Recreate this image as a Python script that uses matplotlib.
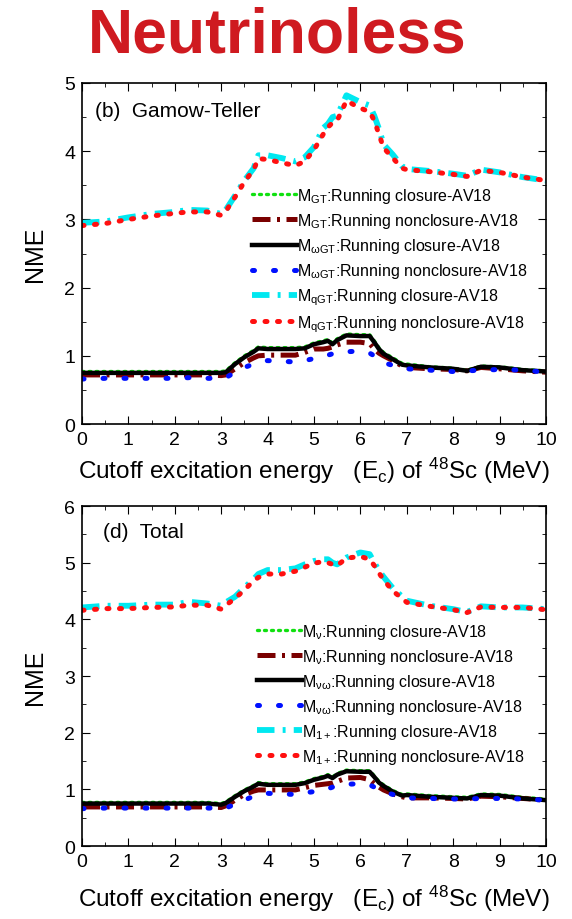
import matplotlib
matplotlib.use("Agg")
import matplotlib.pyplot as plt
from matplotlib.ticker import MultipleLocator

plt.rcParams['font.family'] = ['Liberation Sans', 'DejaVu Sans']
plt.rcParams['mathtext.fontset'] = 'custom'
plt.rcParams['mathtext.rm'] = 'Liberation Sans'
plt.rcParams['mathtext.it'] = 'Liberation Sans:italic'
plt.rcParams['mathtext.bf'] = 'Liberation Sans:bold'

# cutoff energies (MeV) shared by every curve
ec = [0, 0.5, 1.0, 1.5, 2.0, 2.3, 2.7, 3.0, 3.1, 3.3, 3.5, 3.7, 3.8, 4.0, 4.3, 4.6, 4.8,
      5.0, 5.2, 5.3, 5.4, 5.5, 5.7, 6.0, 6.2, 6.3, 6.4, 6.5, 6.7, 6.9, 7.0, 7.5, 8.0,
      8.3, 8.6, 9.0, 9.5, 10.0]

# (b) Gamow-Teller
gt_closure = [0.77, 0.77, 0.77, 0.77, 0.77, 0.77, 0.77, 0.77, 0.78, 0.90, 1.00, 1.08, 1.13,
              1.12, 1.12, 1.12, 1.13, 1.19, 1.22, 1.24, 1.19, 1.25, 1.32, 1.31, 1.31, 1.22,
              1.12, 1.05, 0.97, 0.89, 0.88, 0.84, 0.82, 0.79, 0.85, 0.84, 0.80, 0.78]
gt_nonclosure = [0.72, 0.72, 0.72, 0.72, 0.72, 0.72, 0.72, 0.71, 0.72, 0.81, 0.90, 0.97, 1.00,
                 1.01, 1.01, 1.01, 1.05, 1.10, 1.10, 1.11, 1.13, 1.16, 1.20, 1.20, 1.18, 1.10,
                 1.04, 1.00, 0.93, 0.85, 0.83, 0.81, 0.80, 0.78, 0.83, 0.81, 0.78, 0.76]
wgt_closure = [0.75, 0.75, 0.75, 0.75, 0.75, 0.75, 0.75, 0.75, 0.76, 0.88, 0.98, 1.06, 1.11,
               1.10, 1.10, 1.10, 1.11, 1.17, 1.20, 1.22, 1.17, 1.23, 1.30, 1.29, 1.29, 1.20,
               1.10, 1.03, 0.95, 0.87, 0.86, 0.83, 0.81, 0.78, 0.84, 0.83, 0.79, 0.77]
wgt_nonclosure = [0.66, 0.67, 0.67, 0.67, 0.67, 0.68, 0.67, 0.67, 0.68, 0.76, 0.83, 0.88, 0.90,
                  0.93, 0.92, 0.91, 0.93, 0.96, 1.00, 1.01, 1.03, 1.05, 1.06, 1.07, 1.04, 1.00,
                  0.95, 0.90, 0.86, 0.82, 0.81, 0.79, 0.77, 0.78, 0.79, 0.80, 0.79, 0.76]
qgt_closure = [2.95, 2.97, 3.03, 3.08, 3.11, 3.14, 3.13, 3.08, 3.14, 3.35, 3.57, 3.75, 3.94,
               3.94, 3.90, 3.85, 3.91, 4.06, 4.34, 4.40, 4.50, 4.52, 4.82, 4.72, 4.67, 4.52,
               4.33, 4.10, 3.95, 3.78, 3.74, 3.71, 3.67, 3.64, 3.73, 3.69, 3.62, 3.57]
qgt_nonclosure = [2.91, 2.94, 3.00, 3.05, 3.09, 3.11, 3.11, 3.06, 3.12, 3.33, 3.55, 3.73, 3.89,
                  3.88, 3.83, 3.79, 3.85, 4.02, 4.25, 4.35, 4.42, 4.45, 4.74, 4.63, 4.58, 4.45,
                  4.25, 4.05, 3.90, 3.75, 3.73, 3.70, 3.66, 3.63, 3.72, 3.69, 3.62, 3.57]

# (d) Total
v_closure = [0.77, 0.77, 0.77, 0.77, 0.77, 0.77, 0.77, 0.75, 0.78, 0.89, 0.99, 1.07, 1.12,
             1.10, 1.10, 1.10, 1.13, 1.19, 1.23, 1.26, 1.22, 1.28, 1.34, 1.33, 1.33, 1.24,
             1.14, 1.08, 0.98, 0.91, 0.92, 0.89, 0.87, 0.86, 0.92, 0.91, 0.86, 0.83]
v_nonclosure = [0.69, 0.69, 0.69, 0.69, 0.69, 0.69, 0.69, 0.68, 0.71, 0.81, 0.91, 0.97, 0.99,
                0.99, 0.99, 0.99, 1.03, 1.07, 1.09, 1.10, 1.11, 1.14, 1.20, 1.21, 1.17, 1.10,
                1.04, 0.99, 0.92, 0.87, 0.85, 0.85, 0.84, 0.83, 0.88, 0.87, 0.84, 0.81]
vw_closure = [0.75, 0.75, 0.75, 0.75, 0.75, 0.75, 0.75, 0.73, 0.76, 0.87, 0.97, 1.05, 1.10,
              1.08, 1.08, 1.08, 1.11, 1.17, 1.21, 1.24, 1.20, 1.26, 1.32, 1.31, 1.31, 1.22,
              1.12, 1.06, 0.96, 0.89, 0.90, 0.87, 0.85, 0.84, 0.90, 0.89, 0.84, 0.81]
vw_nonclosure = [0.66, 0.67, 0.67, 0.67, 0.67, 0.67, 0.67, 0.67, 0.67, 0.74, 0.81, 0.88, 0.90,
                 0.93, 0.92, 0.91, 0.94, 0.96, 0.99, 1.01, 1.04, 1.07, 1.09, 1.10, 1.08, 1.04,
                 1.00, 0.96, 0.91, 0.87, 0.85, 0.84, 0.83, 0.83, 0.84, 0.84, 0.83, 0.81]
m1_closure = [4.21, 4.24, 4.24, 4.26, 4.26, 4.31, 4.28, 4.24, 4.30, 4.40, 4.56, 4.71, 4.80,
              4.87, 4.87, 4.90, 4.97, 5.03, 5.06, 5.06, 5.00, 4.97, 5.09, 5.18, 5.15, 5.00,
              4.86, 4.75, 4.55, 4.40, 4.33, 4.24, 4.18, 4.13, 4.23, 4.21, 4.21, 4.18]
m1_nonclosure = [4.16, 4.19, 4.19, 4.21, 4.22, 4.25, 4.25, 4.18, 4.25, 4.37, 4.52, 4.68, 4.74,
                 4.80, 4.80, 4.85, 4.92, 4.99, 5.02, 5.00, 4.97, 4.95, 5.08, 5.11, 5.06, 4.95,
                 4.82, 4.70, 4.50, 4.37, 4.30, 4.23, 4.17, 4.12, 4.22, 4.21, 4.21, 4.17]

gt_labels = [r'M$_{\rm GT}$:Running closure-AV18',
             r'M$_{\rm GT}$:Running nonclosure-AV18',
             r'M$_{\rm \omega GT}$:Running closure-AV18',
             r'M$_{\rm \omega GT}$:Running nonclosure-AV18',
             r'M$_{\rm qGT}$:Running closure-AV18',
             r'M$_{\rm qGT}$:Running nonclosure-AV18']
tot_labels = [r'M$_{\rm \nu}$:Running closure-AV18',
              r'M$_{\rm \nu}$:Running nonclosure-AV18',
              r'M$_{\rm \nu\omega}$:Running closure-AV18',
              r'M$_{\rm \nu\omega}$:Running nonclosure-AV18',
              r'M$_{\rm 1+}$:Running closure-AV18',
              r'M$_{\rm 1+}$:Running nonclosure-AV18']

styles = [
    dict(color='#10e010', lw=2.4, ls=(0, (0.6, 1.5)), dash_capstyle='round'),
    dict(color='#7a0000', lw=3.6, ls=(0, (3.6, 1.3, 0.6, 1.3))),
    dict(color='black', lw=3.2, ls='-'),
    dict(color='#0010ff', lw=3.6, ls=(0, (0.4, 3.8)), dash_capstyle='round'),
    dict(color='#00e8f0', lw=4.2, ls=(0, (3.0, 1.4, 0.5, 1.4))),
    dict(color='#ff1010', lw=3.6, ls=(0, (0.4, 2.1)), dash_capstyle='round'),
]


def draw_panel(ax, series, labels, ymax, tag, tag_xy, leg_anchor, xpad):
    for ys, lab, st in zip(series, labels, styles):
        ax.plot(ec, ys, label=lab, **st)
    ax.set_xlim(0, 10)
    ax.set_ylim(0, ymax)
    ax.xaxis.set_major_locator(MultipleLocator(1))
    ax.xaxis.set_minor_locator(MultipleLocator(0.5))
    ax.yaxis.set_major_locator(MultipleLocator(1))
    ax.yaxis.set_minor_locator(MultipleLocator(0.5))
    ax.tick_params(which='both', direction='in', top=True, right=True, labelsize=14, pad=5)
    ax.tick_params(which='major', length=6)
    ax.tick_params(which='minor', length=3)
    for sp in ax.spines.values():
        sp.set_linewidth(1.2)
    ax.set_ylabel('NME', fontsize=18, labelpad=12)
    ax.set_xlabel(r'Cutoff excitation energy   (E$_{\rm c}$) of $^{48}$Sc (MeV)', fontsize=17.5, labelpad=xpad)
    ax.text(tag_xy[0], tag_xy[1], tag, transform=ax.transAxes, fontsize=15, va='center', ha='left')
    ax.legend(loc='upper left', bbox_to_anchor=leg_anchor, frameon=False, fontsize=11.5,
              handlelength=2.8, handletextpad=0.0, labelspacing=0.38, borderpad=0, borderaxespad=0)


fig = plt.figure(figsize=(5.72, 9.2), dpi=100)
fig.text(0.484, 0.9424, 'Neutrinoless', color='#cf1a20', fontsize=45, fontweight='bold',
         family='Liberation Sans', ha='center', va='baseline')

ax1 = fig.add_axes([0.1434, 0.538, 0.811, 0.3707])
draw_panel(ax1, [gt_closure, gt_nonclosure, wgt_closure, wgt_nonclosure, qgt_closure, qgt_nonclosure],
           gt_labels, 5, '(b)  Gamow-Teller', (0.028, 0.918), (0.366, 0.698), 5)

ax2 = fig.add_axes([0.1434, 0.0793, 0.811, 0.3696])
draw_panel(ax2, [v_closure, v_nonclosure, vw_closure, vw_nonclosure, m1_closure, m1_nonclosure],
           tot_labels, 6, '(d)  Total', (0.045, 0.924), (0.377, 0.66), 9)

fig.savefig('out.png', dpi=100)
